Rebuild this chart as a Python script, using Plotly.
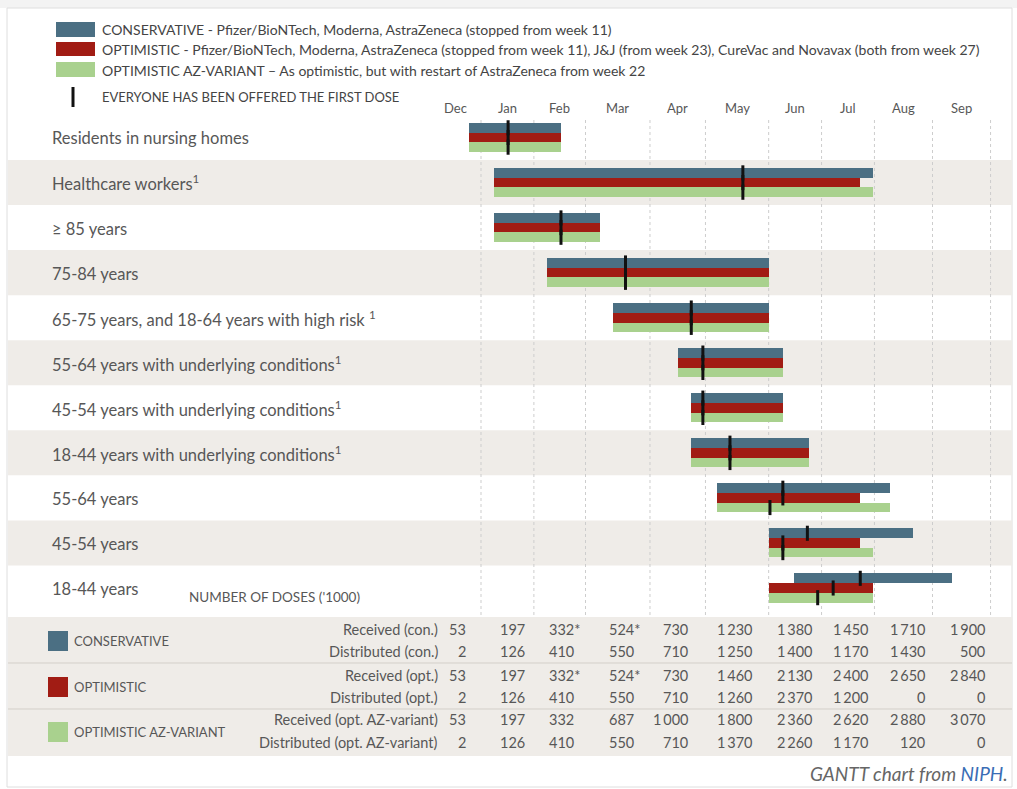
import plotly.graph_objects as go

# ---- data -------------------------------------------------------------
groups = [
    "Residents in nursing homes",
    "Healthcare workers<sup>1</sup>",
    "≥ 85 years",
    "75-84 years",
    "65-75 years, and 18-64 years with high risk <sup>1</sup>",
    "55-64 years with underlying conditions<sup>1</sup>",
    "45-54 years with underlying conditions<sup>1</sup>",
    "18-44 years with underlying conditions<sup>1</sup>",
    "55-64 years",
    "45-54 years",
    "18-44 years",
]

# time axis in weeks of 2021 (0 = start of January)
month_labels = ["Dec", "Jan", "Feb", "Mar", "Apr", "May", "Jun", "Jul", "Aug", "Sep"]
month_edges = [-4.0, 0.0, 4.1, 8.1, 13.1, 17.4, 22.3, 26.4, 30.5, 35.0, 39.5]

# start / end week of each group per scenario
con_start = [-0.9, 1.0, 1.0, 5.1, 10.2, 15.3, 16.3, 16.3, 18.3, 22.3, 24.3]
con_end   = [6.2, 30.4, 9.2, 22.3, 22.3, 23.4, 23.4, 25.4, 31.7, 33.5, 36.5]
opt_start = [-0.9, 1.0, 1.0, 5.1, 10.2, 15.3, 16.3, 16.3, 18.3, 22.3, 22.3]
opt_end   = [6.2, 29.4, 9.2, 22.3, 22.3, 23.4, 23.4, 25.4, 29.4, 29.4, 30.4]
az_start  = [-0.9, 1.0, 1.0, 5.1, 10.2, 15.3, 16.3, 16.3, 18.3, 22.3, 22.3]
az_end    = [6.2, 30.4, 9.2, 22.3, 22.3, 23.4, 23.4, 25.4, 31.7, 30.4, 30.4]

# week in which everyone in the group has been offered the first dose
con_first = [2.1, 20.3, 6.2, 11.2, 16.3, 17.2, 17.2, 19.3, 23.4, 25.3, 29.4]
opt_first = [2.1, 20.3, 6.2, 11.2, 16.3, 17.2, 17.2, 19.3, 23.4, 23.4, 27.3]
az_first  = [2.1, 20.3, 6.2, 11.2, 16.3, 17.2, 17.2, 19.3, 22.4, 23.4, 26.1]

# number of doses ('1000) per month, Dec..Sep
received_con = [53, 197, 332, 524, 730, 1230, 1380, 1450, 1710, 1900]
distributed_con = [2, 126, 410, 550, 710, 1250, 1400, 1170, 1430, 500]
received_opt = [53, 197, 332, 524, 730, 1460, 2130, 2400, 2650, 2840]
distributed_opt = [2, 126, 410, 550, 710, 1260, 2370, 1200, 0, 0]
received_az = [53, 197, 332, 687, 1000, 1800, 2360, 2620, 2880, 3070]
distributed_az = [2, 126, 410, 550, 710, 1370, 2260, 1170, 120, 0]
received_flag = [False, False, True, True, False, False, False, False, False, False]

table_rows = [
    ("Received (con.)", received_con, received_flag),
    ("Distributed (con.)", distributed_con, None),
    ("Received (opt.)", received_opt, received_flag),
    ("Distributed (opt.)", distributed_opt, None),
    ("Received (opt. AZ-variant)", received_az, None),
    ("Distributed (opt. AZ-variant)", distributed_az, None),
]

scenarios = [
    ("CONSERVATIVE", "CONSERVATIVE - Pfizer/BioNTech, Moderna, AstraZeneca (stopped from week 11)",
     "#4b6f83", con_start, con_end, con_first),
    ("OPTIMISTIC", "OPTIMISTIC - Pfizer/BioNTech, Moderna, AstraZeneca (stopped from week 11), J&J (from week 23), CureVac and Novavax (both from week 27)",
     "#a11c14", opt_start, opt_end, opt_first),
    ("OPTIMISTIC AZ-VARIANT", "OPTIMISTIC AZ-VARIANT – As optimistic, but with restart of AstraZeneca from week 22",
     "#a9d18e", az_start, az_end, az_first),
]

# ---- page geometry -----------------------------------------------------
W, H = 1017, 789
X0, XS = 481.0, 12.9      # pixel of week 0, pixels per week
Y0, YS = 137.5, 45.05     # pixel of first row centre, pixels per row
BAR = 0.215               # bar thickness in row units
FONT = "Lato, 'Open Sans', sans-serif"
TXT = "#575757"
BAND = "#efece8"


def px(x):
    return x / W


def py(y):
    return 1 - y / H


fig = go.Figure()
rows = list(range(len(groups)))

for k, (name, _, color, st, en, first) in enumerate(scenarios):
    off = -1.5 * BAR + k * BAR
    fig.add_trace(go.Bar(
        orientation="h", y=rows, base=st, x=[e - s for s, e in zip(st, en)],
        width=BAR, offset=off, marker=dict(color=color, line=dict(width=0)),
        name=name, showlegend=False, hoverinfo="skip",
    ))

for k, (name, _, color, st, en, first) in enumerate(scenarios):
    off = -1.5 * BAR + k * BAR
    xs, ys = [], []
    for r, f in zip(rows, first):
        xs += [f, f, None]
        ys += [r + off - 0.06, r + off + BAR + 0.06, None]
    fig.add_trace(go.Scatter(x=xs, y=ys, mode="lines", line=dict(color="#111111", width=3),
                             showlegend=False, hoverinfo="skip"))

shapes = []
# card frame
shapes.append(dict(type="rect", xref="paper", yref="paper", x0=0, x1=1, y0=py(8), y1=1,
                   fillcolor="#f3f3f3", line=dict(width=0), layer="below"))
shapes.append(dict(type="rect", xref="paper", yref="paper", x0=px(7), x1=px(1012), y0=py(787), y1=py(8),
                   fillcolor="white", line=dict(color="#dedede", width=1), layer="below"))
# alternating row bands
for r in rows:
    if r % 2 == 1:
        shapes.append(dict(type="rect", xref="paper", yref="y", x0=px(8), x1=px(1012),
                           y0=r - 0.5, y1=r + 0.5, fillcolor=BAND, line=dict(width=0), layer="below"))
# table background and separators
shapes.append(dict(type="rect", xref="paper", yref="paper", x0=px(8), x1=px(1012), y0=py(756), y1=py(617),
                   fillcolor=BAND, line=dict(width=0), layer="below"))
for yy in (663, 709):
    shapes.append(dict(type="line", xref="paper", yref="paper", x0=px(8), x1=px(1012), y0=py(yy), y1=py(yy),
                       line=dict(color="#d3cfc9", width=1), layer="below"))
# month grid
for b in month_edges[1:]:
    shapes.append(dict(type="line", xref="x", yref="paper", x0=b, x1=b, y0=py(120), y1=py(617),
                       line=dict(color="#cdcdcd", width=1, dash="dot"), layer="below"))
# top legend swatches
for (y_top, y_bot), (_, _, color, *_r) in zip([(22, 37), (42, 56), (62, 77)], scenarios):
    shapes.append(dict(type="rect", xref="paper", yref="paper", x0=px(56), x1=px(95), y0=py(y_bot), y1=py(y_top),
                       fillcolor=color, line=dict(width=0)))
shapes.append(dict(type="line", xref="paper", yref="paper", x0=px(73), x1=px(73), y0=py(107), y1=py(87),
                   line=dict(color="#111111", width=3)))
# table swatches
for yc, (_, _, color, *_r) in zip([641, 687, 732], scenarios):
    shapes.append(dict(type="rect", xref="paper", yref="paper", x0=px(48), x1=px(68), y0=py(yc + 10), y1=py(yc - 10),
                       fillcolor=color, line=dict(width=0)))

ann = []
# top legend text
for yc, (_, long_name, *_r) in zip([30, 49, 70], scenarios):
    ann.append(dict(x=px(100), y=py(yc), xref="paper", yref="paper", text=long_name, showarrow=False,
                    xanchor="left", yanchor="middle", font=dict(family=FONT, size=14, color="#444444")))
ann.append(dict(x=px(100), y=py(97), xref="paper", yref="paper", text="EVERYONE HAS BEEN OFFERED THE FIRST DOSE",
                showarrow=False, xanchor="left", yanchor="middle", font=dict(family=FONT, size=13, color="#444444")))
# month labels
for i, m in enumerate(month_labels):
    ann.append(dict(x=(month_edges[i] + month_edges[i + 1]) / 2, y=py(108), xref="x", yref="paper", text=m,
                    showarrow=False, xanchor="center", yanchor="middle", font=dict(family=FONT, size=13, color=TXT)))
# row labels
for r, g in zip(rows, groups):
    ann.append(dict(x=px(50), y=r + 0.02, xref="paper", yref="y", text=g, showarrow=False,
                    xanchor="left", yanchor="middle", font=dict(family=FONT, size=16.5, color=TXT)))
ann.append(dict(x=px(187), y=py(597), xref="paper", yref="paper", text="NUMBER OF DOSES ('1000)", showarrow=False,
                xanchor="left", yanchor="middle", font=dict(family=FONT, size=13.5, color=TXT)))
# table
for yc, (name, *_r) in zip([641, 687, 732], scenarios):
    ann.append(dict(x=px(72), y=py(yc), xref="paper", yref="paper", text=name, showarrow=False,
                    xanchor="left", yanchor="middle", font=dict(family=FONT, size=13, color=TXT)))

col_anchor = [(468, "right"), (498, "left"), (547, "left"), (607, "left"), (690, "right"),
              (754, "right"), (814, "right"), (870, "right"), (927, "right"), (987, "right")]


def fmt(v):
    s = f"{v:,}".replace(",", "\u2009")
    return s


for yc, (label, vals, flags) in zip([629, 651, 675, 697, 719, 742], table_rows):
    ann.append(dict(x=px(440), y=py(yc), xref="paper", yref="paper", text=label, showarrow=False,
                    xanchor="right", yanchor="middle", font=dict(family=FONT, size=14.5, color=TXT)))
    for j, v in enumerate(vals):
        t = fmt(v) + ("*" if flags and flags[j] else "")
        xp, anchor = col_anchor[j]
        ann.append(dict(x=px(xp), y=py(yc), xref="paper", yref="paper", text=t, showarrow=False,
                        xanchor=anchor, yanchor="middle", font=dict(family=FONT, size=14.5, color=TXT)))

ann.append(dict(x=px(1010), y=py(773), xref="paper", yref="paper",
                text="<i>GANTT chart from <span style='color:#3a6db5'>NIPH</span>.</i>", showarrow=False,
                xanchor="right", yanchor="middle", font=dict(family=FONT, size=19, color="#666666")))

fig.update_layout(
    width=W, height=H, autosize=False,
    margin=dict(l=0, r=0, t=0, b=0, pad=0),
    paper_bgcolor="white", plot_bgcolor="rgba(0,0,0,0)",
    barmode="overlay", bargap=0,
    xaxis=dict(range=[(0 - X0) / XS, (W - X0) / XS], visible=False, fixedrange=True, domain=[0, 1]),
    yaxis=dict(range=[(H - Y0) / YS, (0 - Y0) / YS], visible=False, fixedrange=True, domain=[0, 1]),
    shapes=shapes, annotations=ann,
    showlegend=False,
)

fig.write_html("out.html", config={"displayModeBar": False})
